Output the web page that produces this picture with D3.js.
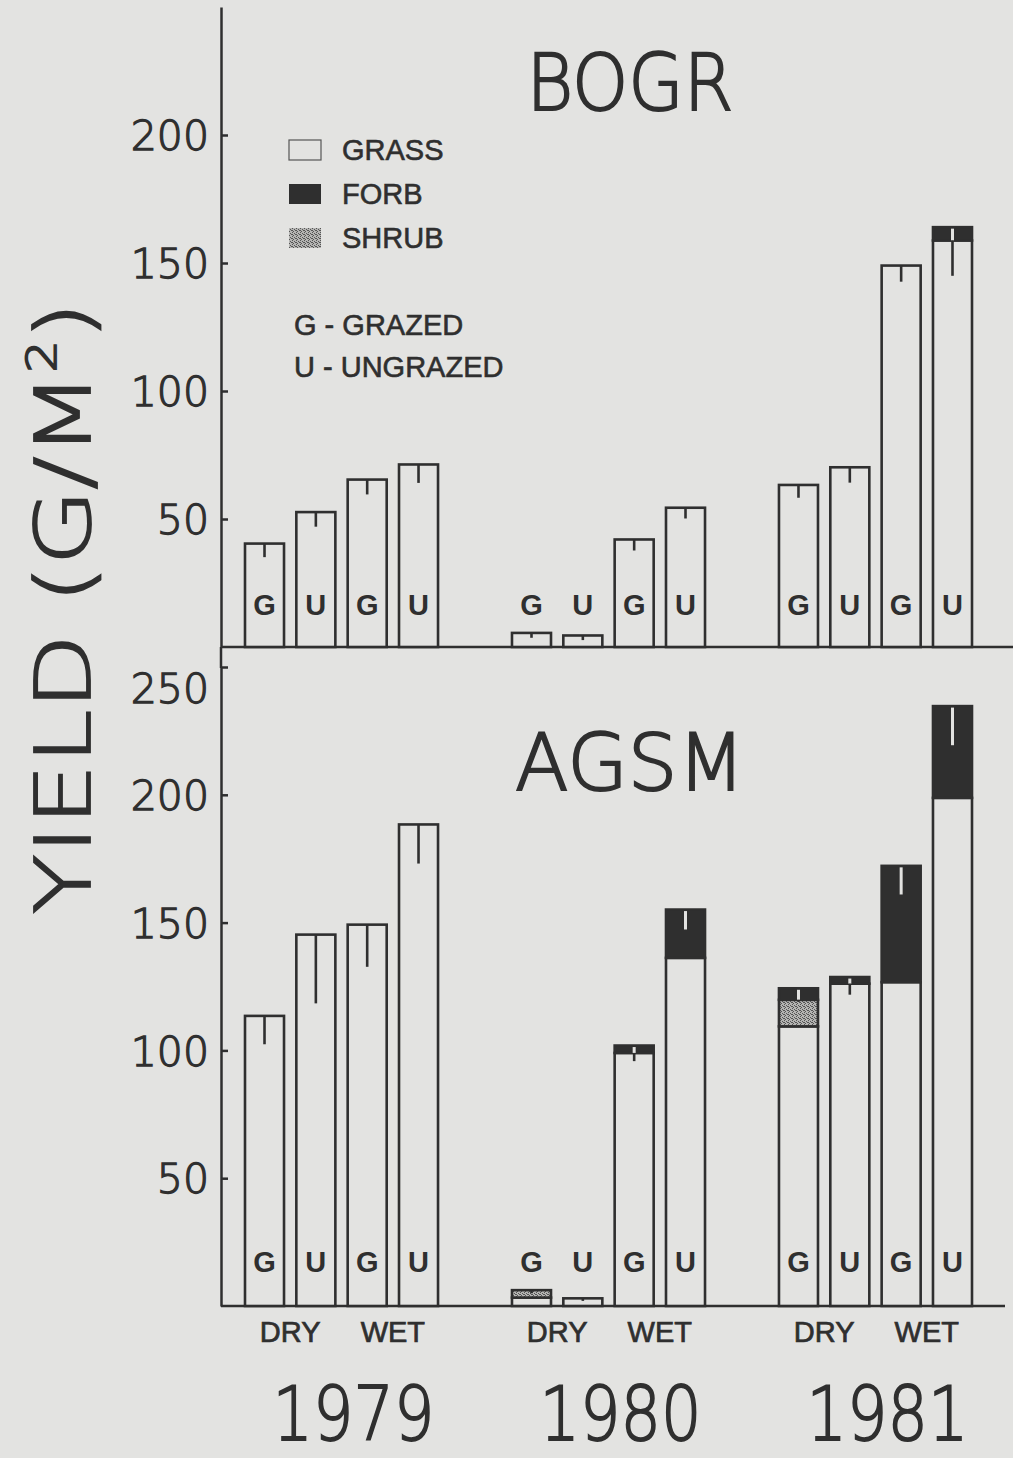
<!DOCTYPE html>
<html>
<head>
<meta charset="utf-8">
<script src="https://cdn.jsdelivr.net/npm/d3@7/dist/d3.min.js"></script>
<style>
  html, body { margin: 0; padding: 0; background: #e3e3e1; }
  svg { display: block; }
</style>
</head>
<body>
<div id="chart"></div>
<script>
// donnees (g/m2)
var years = ["1979", "1980", "1981"];
var treatments = ["DRY G", "DRY U", "WET G", "WET U"];
var barLetters = ["G", "U", "G", "U"];
var moistureLabels = ["DRY", "WET"];

// BOGR
var bogrGrass = [[40.4, 52.7, 65.4, 71.3], [5.5, 4.5, 42, 54.4], [63.3, 70.2, 149, 158.8]];
var bogrShrub = [[0, 0, 0, 0], [0, 0, 0, 0], [0, 0, 0, 0]];
var bogrForb  = [[0, 0, 0, 0], [0, 0, 0, 0], [0, 0, 0, 5.2]];
var bogrErr   = [[5.3, 5.7, 5.8, 7.2], [1.9, 1.8, 4.3, 4.2], [5.0, 6.0, 6.3, 19]];
var bogrTicks = [50, 100, 150, 200];

// AGSM
var agsmGrass = [[113.5, 145.3, 149.2, 188.4], [3.3, 3.0, 99, 136.2], [109.4, 126.1, 126.7, 198.8]];
var agsmShrub = [[0, 0, 0, 0], [2.9, 0, 0, 0], [10.4, 0, 0, 0]];
var agsmForb  = [[0, 0, 0, 0], [0, 0, 2.9, 18.9], [4.5, 2.6, 45.5, 35.9]];
var agsmErr   = [[11.1, 26.9, 16.5, 15.3], [1.2, 1.0, 6.1, 7.8], [5.3, 6.9, 11.2, 15.3]];
var agsmTicks = [50, 100, 150, 200, 250];

var legendItems = ["GRASS", "FORB", "SHRUB"];
var legendCodes = ["G - GRAZED", "U - UNGRAZED"];

var ink = "#2f2f2f", paper = "#e3e3e1";
var thinFont = "'DejaVu Sans', sans-serif";
var labelFont = "'Liberation Sans', Arial, sans-serif";

var svg = d3.select('#chart').append('svg').attr('width', 1013).attr('height', 1458);
svg.append('rect').attr('width', 1013).attr('height', 1458).attr('fill', paper);

// motif pointille pour les arbustes
var pat = svg.append('defs').append('pattern').attr('id', 'stipple')
    .attr('patternUnits', 'userSpaceOnUse').attr('width', 4).attr('height', 4);
pat.append('rect').attr('width', 4).attr('height', 4).attr('fill', '#b4b4b2');
[[0, 0], [2, 1], [1, 3], [3, 2], [0, 2]].forEach(function(p){
    pat.append('rect').attr('x', p[0]).attr('y', p[1]).attr('width', 1).attr('height', 1).attr('fill', '#555');
});

var axisX = 221;
var xYear = d3.scaleBand().domain(years).range([245, 972]).paddingInner(0.277);
var xTreat = d3.scaleBand().domain(treatments).range([0, xYear.bandwidth()]).paddingInner(0.24);

function drawPanel(opt){
    var y = d3.scaleLinear().domain([0, 250]).range([opt.base, opt.top]);
    var g = svg.append('g');

    // axe vertical + graduations vers l'interieur
    var axis = d3.axisLeft(y).tickValues(opt.ticks).tickSizeInner(-7).tickSizeOuter(0).tickPadding(12);
    var ax = g.append('g').attr('transform', 'translate(' + axisX + ',0)').call(axis);
    ax.select('.domain').attr('stroke', ink).attr('stroke-width', 2.5);
    ax.selectAll('.tick line').attr('stroke', ink).attr('stroke-width', 2.5);
    ax.selectAll('.tick text').attr('font-family', thinFont).attr('font-weight', 200)
        .attr('font-size', 41).attr('fill', ink).attr('stroke', ink).attr('stroke-width', 1.3)
        .attr('dy', function(d){ return d == 250 ? '0.86em' : '0.36em'; });

    // ligne de base
    g.append('line').attr('x1', axisX).attr('x2', opt.baseEnd)
        .attr('y1', y(0)).attr('y2', y(0)).attr('stroke', ink).attr('stroke-width', 2.5);

    // titre
    g.append('text').attr('x', 630).attr('y', opt.titleY).attr('text-anchor', 'middle')
        .attr('font-family', thinFont).attr('font-weight', 200).attr('font-size', 79)
        .attr('textLength', opt.titleLen).attr('lengthAdjust', 'spacingAndGlyphs')
        .attr('fill', ink).attr('stroke', ink).attr('stroke-width', 2)
        .text(opt.name);

    years.forEach(function(yr, i){
        treatments.forEach(function(tr, j){
            var grass = opt.grass[i][j], shrub = opt.shrub[i][j], forb = opt.forb[i][j], se = opt.err[i][j];
            var total = grass + shrub + forb;
            var x0 = xYear(yr) + xTreat(tr), w = xTreat.bandwidth(), xc = x0 + w / 2;
            var segs = [[0, grass, paper], [grass, grass + shrub, 'url(#stipple)'], [grass + shrub, total, ink]];
            segs.forEach(function(s){
                if(s[1] - s[0] <= 0) return;
                g.append('rect').attr('x', x0).attr('width', w)
                    .attr('y', y(s[1])).attr('height', y(s[0]) - y(s[1]))
                    .attr('fill', s[2]).attr('stroke', ink).attr('stroke-width', 2.6);
            });
            // barre d'erreur : claire dans les dicots, foncee ailleurs
            var low = total - se;
            if(forb > 0){
                g.append('line').attr('x1', xc).attr('x2', xc)
                    .attr('y1', y(total) + 1.5).attr('y2', y(Math.max(low, grass + shrub)))
                    .attr('stroke', paper).attr('stroke-width', 3);
                if(low < grass + shrub){
                    g.append('line').attr('x1', xc).attr('x2', xc)
                        .attr('y1', y(grass + shrub)).attr('y2', y(low))
                        .attr('stroke', ink).attr('stroke-width', 2.6);
                }
            } else {
                g.append('line').attr('x1', xc).attr('x2', xc)
                    .attr('y1', y(total)).attr('y2', y(low))
                    .attr('stroke', ink).attr('stroke-width', 2.6);
            }
            // lettre G / U
            g.append('text').attr('x', xc).attr('y', opt.letterY).attr('text-anchor', 'middle')
                .attr('font-family', labelFont).attr('font-weight', 'bold').attr('font-size', 29)
                .attr('fill', ink).text(barLetters[j]);
        });
    });
    return y;
}

drawPanel({name: 'BOGR', base: 647, top: 7, baseEnd: 1013, ticks: bogrTicks,
    grass: bogrGrass, shrub: bogrShrub, forb: bogrForb, err: bogrErr,
    titleY: 110, titleLen: 207, letterY: 615});
drawPanel({name: 'AGSM', base: 1306, top: 667, baseEnd: 1005, ticks: agsmTicks,
    grass: agsmGrass, shrub: agsmShrub, forb: agsmForb, err: agsmErr,
    titleY: 790, titleLen: 230, letterY: 1272});

// axe vertical continu entre les deux panneaux
svg.append('line').attr('x1', axisX).attr('x2', axisX).attr('y1', 647).attr('y2', 668)
    .attr('stroke', ink).attr('stroke-width', 2.5);

// legende
var leg = svg.append('g');
var swFill = [paper, ink, 'url(#stipple)'];
legendItems.forEach(function(name, i){
    var yy = 140 + i * 44;
    leg.append('rect').attr('x', 289).attr('y', yy).attr('width', 32).attr('height', 20)
        .attr('fill', swFill[i]).attr('stroke', i == 0 ? '#555' : 'none').attr('stroke-width', 1.2);
    leg.append('text').attr('x', 342).attr('y', yy + 20)
        .attr('font-family', labelFont).attr('font-size', 29).attr('fill', ink)
        .attr('stroke', ink).attr('stroke-width', 0.6).text(name);
});
legendCodes.forEach(function(t, i){
    leg.append('text').attr('x', 294).attr('y', 335 + i * 42)
        .attr('font-family', labelFont).attr('font-size', 29).attr('fill', ink)
        .attr('stroke', ink).attr('stroke-width', 0.6).text(t);
});

// DRY / WET et annees
years.forEach(function(yr){
    moistureLabels.forEach(function(m, k){
        var a = xYear(yr) + xTreat(treatments[k * 2]);
        var b = xYear(yr) + xTreat(treatments[k * 2 + 1]) + xTreat.bandwidth();
        svg.append('text').attr('x', (a + b) / 2).attr('y', 1342).attr('text-anchor', 'middle')
            .attr('font-family', labelFont).attr('font-size', 29).attr('fill', ink)
            .attr('stroke', ink).attr('stroke-width', 0.7).text(m);
    });
    svg.append('text').attr('x', xYear(yr) + xYear.bandwidth() / 2 + 12).attr('y', 1440)
        .attr('text-anchor', 'middle').attr('font-family', thinFont).attr('font-weight', 200)
        .attr('font-size', 75).attr('textLength', 162).attr('lengthAdjust', 'spacingAndGlyphs')
        .attr('fill', ink).attr('stroke', ink).attr('stroke-width', 1.8).text(yr);
});

// titre de l'axe Y
var yl = svg.append('text').attr('transform', 'translate(90,608) rotate(-90)')
    .attr('text-anchor', 'middle').attr('font-family', thinFont).attr('font-weight', 200)
    .attr('font-size', 77).attr('textLength', 612).attr('lengthAdjust', 'spacingAndGlyphs')
    .attr('fill', ink).attr('stroke', ink).attr('stroke-width', 1.8);
yl.append('tspan').text('YIELD (G/M');
yl.append('tspan').attr('font-size', 40).attr('dy', -34).text('2');
yl.append('tspan').attr('dy', 34).text(')');
</script>
</body>
</html>
